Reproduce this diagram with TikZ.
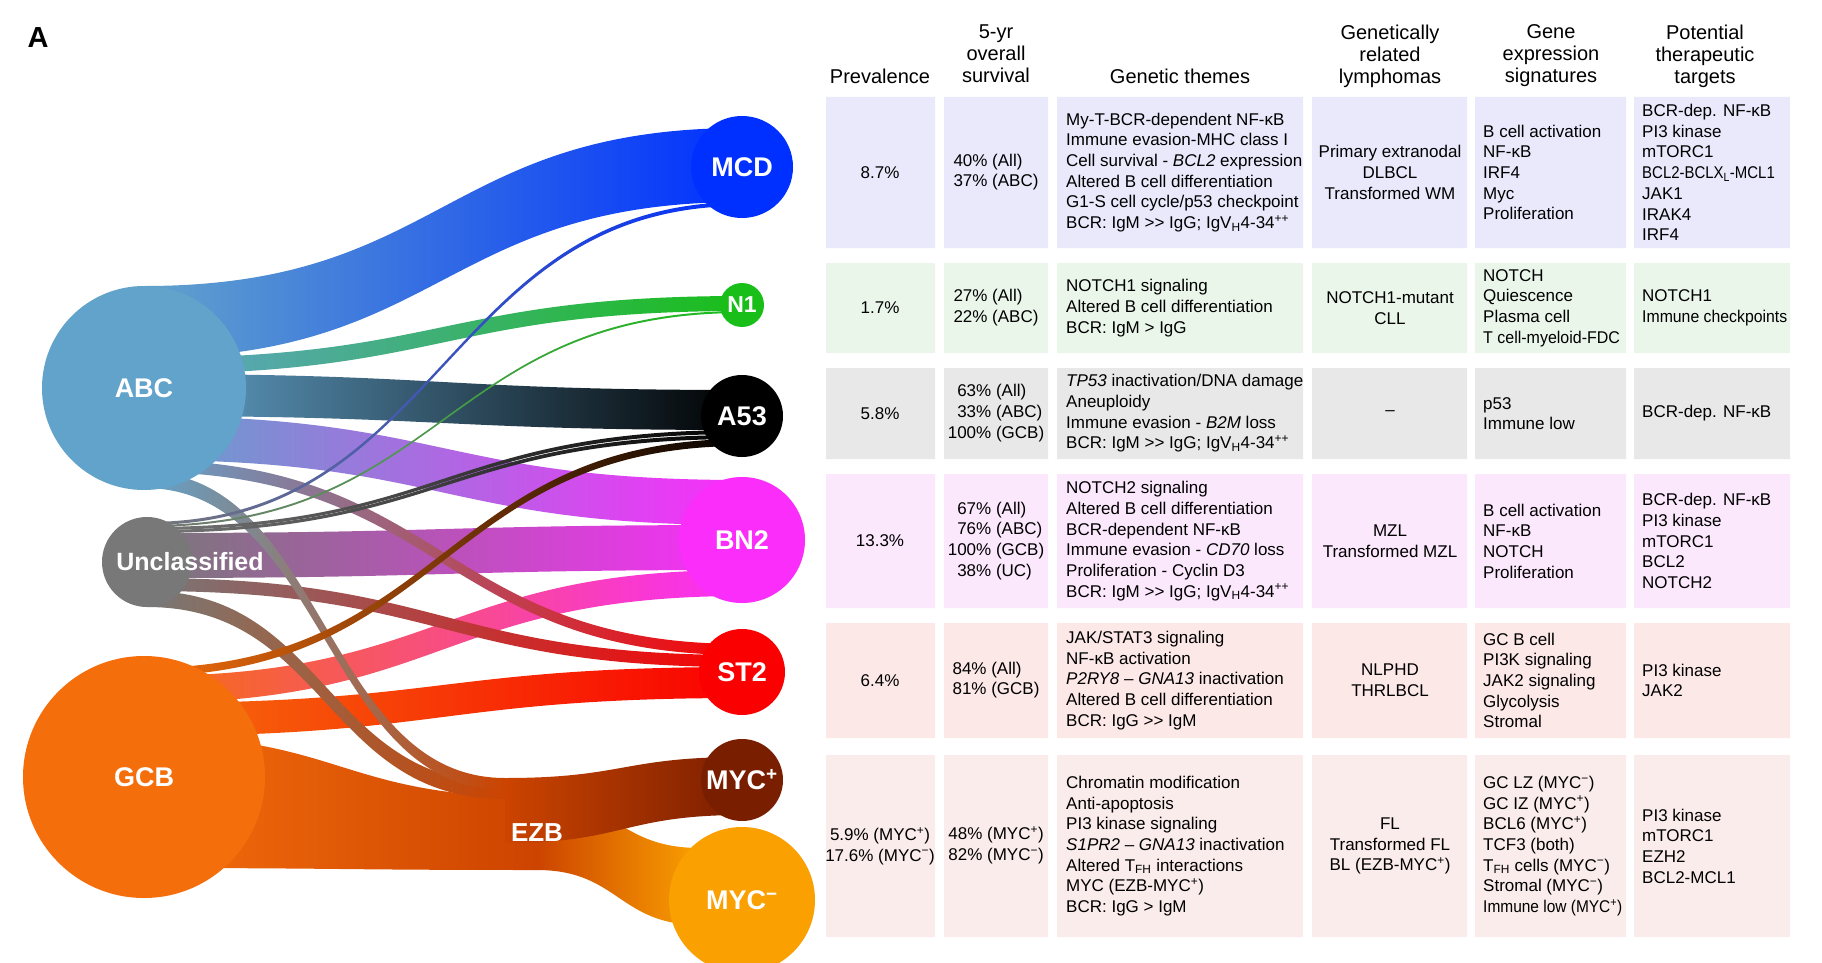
\documentclass[tikz,border=0pt]{standalone}
\usepackage{fontspec}
\usepackage{graphicx}
\setmainfont{Liberation Sans}
\usetikzlibrary{calc}

\pgfdeclarelayer{flows}
\pgfsetlayers{flows,main}

\definecolor{abcblue}{RGB}{98,163,203}
\definecolor{mcdblue}{RGB}{0,48,255}
\definecolor{n1green}{RGB}{25,190,25}
\definecolor{bn2pink}{RGB}{250,45,250}
\definecolor{st2red}{RGB}{250,0,0}
\definecolor{mycpbrown}{RGB}{122,30,0}
\definecolor{mycmorange}{RGB}{250,160,0}
\definecolor{ezborange}{RGB}{204,68,0}
\definecolor{gcborange}{RGB}{245,110,12}
\definecolor{unclgray}{RGB}{120,120,120}
\definecolor{rowmcd}{RGB}{234,233,252}
\definecolor{rown1}{RGB}{235,246,235}
\definecolor{rowa53}{RGB}{232,232,232}
\definecolor{rowbn2}{RGB}{252,232,252}
\definecolor{rowst2}{RGB}{253,232,232}
\definecolor{rowezb}{RGB}{249,236,234}

% band from node #1 to node #4, offsets below the node centres
\newcommand\flow[8]{%
  \shade[left color=#7,right color=#8]
    let \p1=(#1.center), \p2=(#4.center) in
    ({\x1},{\y1-(#2)}) .. controls ({(\x1+\x2)/2},{\y1-(#2)}) and ({(\x1+\x2)/2},{\y2-(#5)}) .. ({\x2},{\y2-(#5)})
    -- ({\x2},{\y2-(#6)}) .. controls ({(\x1+\x2)/2},{\y2-(#6)}) and ({(\x1+\x2)/2},{\y1-(#3)}) .. ({\x1},{\y1-(#3)})
    -- cycle;}
\newcommand\squeeze[2]{\scalebox{#1}[1]{#2}}

\begin{document}
\begin{tikzpicture}
[x=1pt,y=-1pt,%
  blob/.style={circle,inner sep=0pt,text=white,font=\fontsize{27}{30}\selectfont\bfseries},%
  tag/.style={inner sep=0pt,text=white,font=\fontsize{26}{30}\selectfont\bfseries},%
  head/.style={inner sep=0pt,align=center,anchor=north,font=\fontsize{20}{22}\selectfont},%
  txt/.style={inner sep=0pt,align=left,anchor=west,font=\fontsize{17}{20.7}\selectfont},%
  ctr/.style={inner sep=0pt,align=center,font=\fontsize{17}{20.7}\selectfont},%
  os/.style={inner sep=0pt,font=\fontsize{17}{20.7}\selectfont}]
\useasboundingbox (0,0) rectangle (1822,963);

\node[font=\fontsize{29}{30}\selectfont\bfseries,inner sep=0pt] (panel) at (38,38) {A};

% sankey nodes
\node[blob,fill=abcblue,minimum size=204pt] (abc) at (144,388) {ABC};
\node[blob,fill=unclgray,minimum size=90pt] (uncl) at (147,562) {};
\node[tag,font=\fontsize{25}{30}\selectfont\bfseries] (uncl-lab) at (190,562) {Unclassified};
\node[blob,fill=gcborange,minimum size=242pt] (gcb) at (144,777) {GCB};
\node[blob,fill=mcdblue,minimum size=102pt] (mcd) at (742,167) {MCD};
\node[blob,fill=n1green,minimum size=44pt,font=\fontsize{23}{25}\selectfont\bfseries] (n1) at (742,305) {N1};
\node[blob,fill=black,minimum size=82pt] (a53) at (742,416) {A53};
\node[blob,fill=bn2pink,minimum size=126pt] (bn2) at (742,540) {BN2};
\node[blob,fill=st2red,minimum size=86pt] (st2) at (742,672) {ST2};
\node[blob,fill=mycpbrown,minimum size=82pt] (mycp) at (742,780) {MYC\textsuperscript{+}};
\node[blob,fill=mycmorange,minimum size=146pt] (mycm) at (742,900) {MYC\textsuperscript{−}};
\node[tag] (ezb) at (537,833) {EZB};
\coordinate (ezb-in) at (505,833);
\coordinate (mycm-in) at (700,900);

\begin{pgfonlayer}{flows}
\fill[white] (0,0) rectangle (1822,963);
\flow{abc}{-102}{-30}{mcd}{-39}{35}{abcblue}{mcdblue}
\flow{abc}{-30}{-14}{n1}{-9}{6}{abcblue}{n1green}
\flow{abc}{-14}{28}{a53}{-26}{14}{abcblue}{black}
\flow{abc}{28}{72}{bn2}{-60}{-15}{abcblue}{bn2pink}
\flow{uncl}{-29}{16}{bn2}{-15}{30}{unclgray}{bn2pink}
\flow{gcb}{-74}{-41}{st2}{-5}{26}{gcborange}{st2red}
\flow{gcb}{-41}{91}{ezb}{-36}{37}{gcborange}{ezborange}
\flow{ezb}{-33}{37}{mycm-in}{-52}{25}{ezborange}{mycmorange}
\flow{ezb-in}{-55}{10}{mycp}{-23}{35}{ezborange}{mycpbrown}
\flow{gcb}{-101}{-74}{bn2}{30}{56}{gcborange}{bn2pink}
\flow{uncl}{16}{29}{st2}{-17}{-5}{unclgray}{st2red}
\flow{uncl}{29}{45}{ezb-in}{-50}{-34}{unclgray}{ezborange}
\flow{abc}{72}{84}{st2}{-28}{-17}{abcblue}{st2red}
\flow{abc}{84}{100}{ezb-in}{-55}{-43}{abcblue}{ezborange}
\flow{gcb}{-109}{-101}{a53}{23}{30}{gcborange}{black}
\flow{uncl}{-40}{-37}{mcd}{35}{39}{unclgray}{mcdblue}
\flow{uncl}{-37}{-35}{n1}{6}{8}{unclgray}{n1green}
\flow{uncl}{-35}{-32}{a53}{14}{18}{unclgray}{black}
\flow{uncl}{-32}{-29}{a53}{19}{23}{unclgray}{black}
\end{pgfonlayer}

% table header
\node[head] (h-prev) at (880,68.5) {Prevalence};
\node[head] (h-os) at (996,24.5) {5-yr\\overall\\survival};
\node[head] (h-gen) at (1180,68.5) {Genetic themes};
\node[head] (h-rel) at (1390,24.5) {Genetically\\related\\lymphomas};
\node[head] (h-gex) at (1551,24.5) {Gene\\expression\\signatures};
\node[head] (h-tgt) at (1705,24.5) {Potential\\therapeutic\\targets};

% cell backgrounds
\fill[rowmcd] (826,97) rectangle (935,248) (944,97) rectangle (1048,248) (1057,97) rectangle (1303,248)
  (1312,97) rectangle (1467,248) (1475,97) rectangle (1626,248) (1634,97) rectangle (1790,248);
\fill[rown1] (826,263) rectangle (935,353) (944,263) rectangle (1048,353) (1057,263) rectangle (1303,353)
  (1312,263) rectangle (1467,353) (1475,263) rectangle (1626,353) (1634,263) rectangle (1790,353);
\fill[rowa53] (826,368) rectangle (935,459) (944,368) rectangle (1048,459) (1057,368) rectangle (1303,459)
  (1312,368) rectangle (1467,459) (1475,368) rectangle (1626,459) (1634,368) rectangle (1790,459);
\fill[rowbn2] (826,474) rectangle (935,608) (944,474) rectangle (1048,608) (1057,474) rectangle (1303,608)
  (1312,474) rectangle (1467,608) (1475,474) rectangle (1626,608) (1634,474) rectangle (1790,608);
\fill[rowst2] (826,623) rectangle (935,738) (944,623) rectangle (1048,738) (1057,623) rectangle (1303,738)
  (1312,623) rectangle (1467,738) (1475,623) rectangle (1626,738) (1634,623) rectangle (1790,738);
\fill[rowezb] (826,755) rectangle (935,937) (944,755) rectangle (1048,937) (1057,755) rectangle (1303,937)
  (1312,755) rectangle (1467,937) (1475,755) rectangle (1626,937) (1634,755) rectangle (1790,937);

% MCD row
\node[ctr] (mcd-prev) at (880,172.5) {8.7\%};
\node[os] (mcd-os) at (996,172.5) {\begin{tabular}{@{}r@{ }l@{}}40\% & (All)\\37\% & (ABC)\end{tabular}};
\node[txt] (mcd-gen) at (1066,172.5) {My-T-BCR-dependent NF-κB\\Immune evasion-MHC class I\\Cell survival - \textit{BCL2} expression\\Altered B cell differentiation\\G1-S cell cycle/p53 checkpoint\\BCR: IgM >{}> IgG; IgV\textsubscript{H}4-34\textsuperscript{++}};
\node[ctr] (mcd-rel) at (1390,172.5) {Primary extranodal\\DLBCL\\Transformed WM};
\node[txt] (mcd-gex) at (1483,172.5) {B cell activation\\NF-κB\\IRF4\\Myc\\Proliferation};
\node[txt] (mcd-tgt) at (1642,172.5) {BCR-dep. NF-κB\\PI3 kinase\\mTORC1\\\squeeze{0.88}{BCL2-BCLX\textsubscript{L}-MCL1}\\JAK1\\IRAK4\\IRF4};

% N1 row
\node[ctr] (n1-prev) at (880,308) {1.7\%};
\node[os] (n1-os) at (996,308) {\begin{tabular}{@{}r@{ }l@{}}27\% & (All)\\22\% & (ABC)\end{tabular}};
\node[txt] (n1-gen) at (1066,308) {NOTCH1 signaling\\Altered B cell differentiation\\BCR: IgM > IgG};
\node[ctr] (n1-rel) at (1390,308) {NOTCH1-mutant\\CLL};
\node[txt] (n1-gex) at (1483,308) {NOTCH\\Quiescence\\Plasma cell\\\squeeze{0.94}{T cell-myeloid-FDC}};
\node[txt] (n1-tgt) at (1642,308) {NOTCH1\\\squeeze{0.93}{Immune checkpoints}};

% A53 row
\node[ctr] (a53-prev) at (880,413.5) {5.8\%};
\node[os] (a53-os) at (996,413.5) {\begin{tabular}{@{}r@{ }l@{}}63\% & (All)\\33\% & (ABC)\\100\% & (GCB)\end{tabular}};
\node[txt] (a53-gen) at (1066,413.5) {\textit{TP53} inactivation/DNA damage\\Aneuploidy\\Immune evasion - \textit{B2M} loss\\BCR: IgM >{}> IgG; IgV\textsubscript{H}4-34\textsuperscript{++}};
\node[ctr] (a53-rel) at (1390,413.5) {–};
\node[txt] (a53-gex) at (1483,413.5) {p53\\Immune low};
\node[txt] (a53-tgt) at (1642,413.5) {BCR-dep. NF-κB};

% BN2 row
\node[ctr] (bn2-prev) at (880,541) {13.3\%};
\node[os] (bn2-os) at (996,541) {\begin{tabular}{@{}r@{ }l@{}}67\% & (All)\\76\% & (ABC)\\100\% & (GCB)\\38\% & (UC)\end{tabular}};
\node[txt] (bn2-gen) at (1066,541) {NOTCH2 signaling\\Altered B cell differentiation\\BCR-dependent NF-κB\\Immune evasion - \textit{CD70} loss\\Proliferation - Cyclin D3\\BCR: IgM >{}> IgG; IgV\textsubscript{H}4-34\textsuperscript{++}};
\node[ctr] (bn2-rel) at (1390,541) {MZL\\Transformed MZL};
\node[txt] (bn2-gex) at (1483,541) {B cell activation\\NF-κB\\NOTCH\\Proliferation};
\node[txt] (bn2-tgt) at (1642,541) {BCR-dep. NF-κB\\PI3 kinase\\mTORC1\\BCL2\\NOTCH2};

% ST2 row
\node[ctr] (st2-prev) at (880,680.5) {6.4\%};
\node[os] (st2-os) at (996,680.5) {\begin{tabular}{@{}r@{ }l@{}}84\% & (All)\\81\% & (GCB)\end{tabular}};
\node[txt] (st2-gen) at (1066,680.5) {JAK/STAT3 signaling\\NF-κB activation\\\textit{P2RY8} – \textit{GNA13} inactivation\\Altered B cell differentiation\\BCR: IgG >{}> IgM};
\node[ctr] (st2-rel) at (1390,680.5) {NLPHD\\THRLBCL};
\node[txt] (st2-gex) at (1483,680.5) {GC B cell\\PI3K signaling\\JAK2 signaling\\Glycolysis\\Stromal};
\node[txt] (st2-tgt) at (1642,680.5) {PI3 kinase\\JAK2};

% EZB row
\node[ctr] (ezb-prev) at (880,846) {5.9\% (MYC\textsuperscript{+})\\17.6\% (MYC\textsuperscript{−})};
\node[os] (ezb-os) at (996,846) {\begin{tabular}{@{}r@{ }l@{}}48\% & (MYC\textsuperscript{+})\\82\% & (MYC\textsuperscript{−})\end{tabular}};
\node[txt] (ezb-gen) at (1066,846) {Chromatin modification\\Anti-apoptosis\\PI3 kinase signaling\\\textit{S1PR2} – \textit{GNA13} inactivation\\Altered T\textsubscript{FH} interactions\\MYC (EZB-MYC\textsuperscript{+})\\BCR: IgG > IgM};
\node[ctr] (ezb-rel) at (1390,846) {FL\\Transformed FL\\BL (EZB-MYC\textsuperscript{+})};
\node[txt] (ezb-gex) at (1483,846) {GC LZ (MYC\textsuperscript{−})\\GC IZ (MYC\textsuperscript{+})\\BCL6 (MYC\textsuperscript{+})\\TCF3 (both)\\T\textsubscript{FH} cells (MYC\textsuperscript{−})\\Stromal (MYC\textsuperscript{−})\\\squeeze{0.91}{Immune low (MYC\textsuperscript{+})}};
\node[txt] (ezb-tgt) at (1642,846) {PI3 kinase\\mTORC1\\EZH2\\BCL2-MCL1};
\end{tikzpicture}
\end{document}
